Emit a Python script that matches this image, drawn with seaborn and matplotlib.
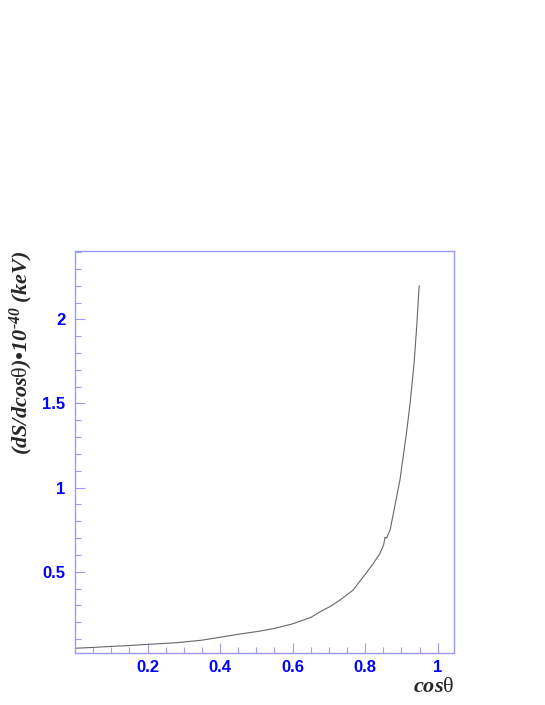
import numpy as np
import pandas as pd
import matplotlib
matplotlib.use('Agg')
import matplotlib.pyplot as plt
from matplotlib.ticker import MultipleLocator, FixedLocator
import seaborn as sns

# values
cos_theta = [0.0, 0.05, 0.1, 0.14, 0.2, 0.28, 0.35, 0.41, 0.45, 0.51, 0.55, 0.6,
             0.65, 0.676, 0.705, 0.731, 0.767, 0.795, 0.823, 0.841, 0.851, 0.855,
             0.859, 0.869, 0.878, 0.896, 0.915, 0.925, 0.935, 0.942, 0.949]
dS = [0.045, 0.05, 0.056, 0.060, 0.068, 0.078, 0.093, 0.114, 0.128, 0.147, 0.163, 0.19,
      0.228, 0.262, 0.295, 0.332, 0.391, 0.47, 0.55, 0.609, 0.66, 0.705,
      0.700, 0.75, 0.847, 1.045, 1.34, 1.52, 1.74, 1.95, 2.2]
x_major = [0.2, 0.4, 0.6, 0.8, 1.0]
x_labels = ['0.2', '0.4', '0.6', '0.8', '1']
y_major = [0.5, 1.0, 1.5, 2.0]
y_labels = ['0.5', '1', '1.5', '2']

df = pd.DataFrame({'cos': cos_theta, 'dS': dS})

sns.set_style('white')
plt.rcParams['mathtext.fontset'] = 'custom'
plt.rcParams['mathtext.rm'] = 'Liberation Serif:italic:bold'
plt.rcParams['mathtext.it'] = 'Liberation Serif:italic:bold'
plt.rcParams['mathtext.sf'] = 'Liberation Serif'

frame = '#9999ff'
fig = plt.figure(figsize=(5.45, 7.05), dpi=100)
ax = fig.add_axes([0.1376, 0.0738, 0.6954, 0.5706])
sns.lineplot(data=df, x='cos', y='dS', ax=ax, color='#666666', linewidth=0.8)

ax.set_xlim(0, 1.045)
ax.set_ylim(0.017, 2.408)
ax.xaxis.set_major_locator(FixedLocator(x_major))
ax.set_xticklabels(x_labels)
ax.xaxis.set_minor_locator(MultipleLocator(0.05))
ax.yaxis.set_major_locator(FixedLocator(y_major))
ax.set_yticklabels(y_labels)
ax.yaxis.set_minor_locator(MultipleLocator(0.1))

for s in ax.spines.values():
    s.set_color(frame)
    s.set_linewidth(1.0)
ax.tick_params(which='both', direction='in', color=frame, width=0.8,
               bottom=True, left=True, top=False, right=False)
ax.tick_params(which='major', length=7)
ax.tick_params(which='minor', length=4)
ax.tick_params(axis='both', labelcolor='#0000ff', labelsize=12)
ax.tick_params(axis='x', pad=5)
ax.tick_params(axis='y', pad=7)
for lab in ax.get_xticklabels() + ax.get_yticklabels():
    lab.set_fontfamily('Liberation Sans')
    lab.set_fontweight('bold')

ax.set_xlabel('')
ax.set_ylabel('')
fig.text(0.833, 0.0184, r'cos$\mathsf{\theta}$', ha='right', va='baseline',
         fontsize=16, family='Liberation Serif', style='italic', weight='bold')
fig.text(0.040, 0.50, r'(dS/dcos$\mathsf{\theta}$)•10$^{\text{-40}}$ (keV)', rotation=90,
         ha='center', va='center', fontsize=16, family='Liberation Serif',
         style='italic', weight='bold')

fig.savefig('out.png', dpi=100, facecolor='white')
